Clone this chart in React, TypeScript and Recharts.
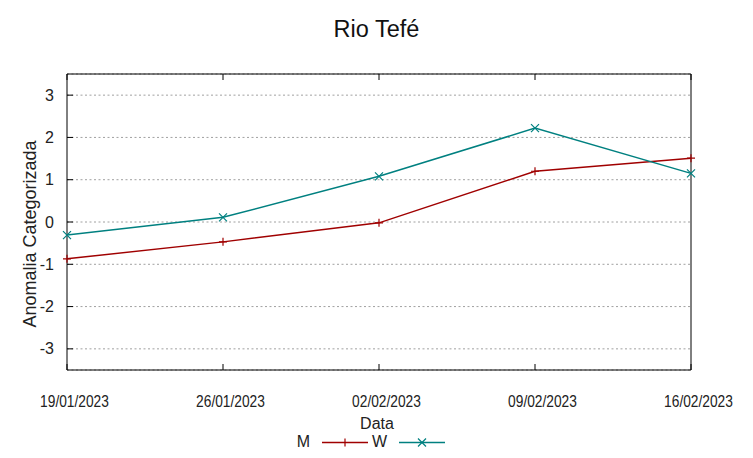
import React from "react";
import { LineChart, Line, XAxis, YAxis, CartesianGrid } from "recharts";

const dates = ["19/01/2023", "26/01/2023", "02/02/2023", "09/02/2023", "16/02/2023"];
const mValues = [-0.87, -0.47, -0.02, 1.2, 1.51];
const wValues = [-0.31, 0.11, 1.08, 2.22, 1.15];
const yTicks = [-3, -2, -1, 0, 1, 2, 3];

const series = [
  { key: "M", color: "#a00000", marker: "plus" },
  { key: "W", color: "#008080", marker: "cross" },
];

const data = dates.map((d, i) => ({ date: d, M: mValues[i], W: wValues[i] }));

const W = 753;
const H = 458;
const FONT = "'Liberation Sans', Arial, sans-serif";

function markerPath(kind: string, cx: number, cy: number, r: number) {
  if (kind === "plus") return `M${cx - r},${cy}H${cx + r}M${cx},${cy - r}V${cy + r}`;
  return `M${cx - r},${cy - r}L${cx + r},${cy + r}M${cx - r},${cy + r}L${cx + r},${cy - r}`;
}

const makeDot = (kind: string, color: string) => (props: any) => {
  const { cx, cy, index } = props;
  if (cx == null || cy == null) return <g key={index} />;
  return <path key={index} d={markerPath(kind, cx, cy, 4)} stroke={color} strokeWidth={1.2} fill="none" />;
};

const BottomTick = (props: any) => {
  const { x, y, payload } = props;
  return (
    <g>
      <line x1={x} x2={x} y1={y} y2={y - 6} stroke="#000" />
      <text
        transform={`translate(${x + 7.5},${y + 36.5}) scale(0.86,1)`}
        textAnchor="middle"
        fontFamily={FONT}
        fontSize={16}
        fill="#222"
      >
        {payload.value}
      </text>
    </g>
  );
};

const TopTick = (props: any) => {
  const { x, y } = props;
  return <line x1={x} x2={x} y1={y} y2={y + 6} stroke="#000" />;
};

const LeftTick = (props: any) => {
  const { x, y, payload } = props;
  return (
    <g>
      <line x1={x} x2={x + 6} y1={y} y2={y} stroke="#000" />
      <text x={x - 13} y={y + 5.5} textAnchor="end" fontFamily={FONT} fontSize={16} fill="#222">
        {payload.value}
      </text>
    </g>
  );
};

const RightTick = (props: any) => {
  const { x, y } = props;
  return <line x1={x} x2={x - 6} y1={y} y2={y} stroke="#000" />;
};

export default function App() {
  return (
    <div style={{ position: "absolute", left: 0, top: 0, width: W, height: H, background: "#fff" }}>
      <LineChart width={W} height={H} data={data} margin={{ top: 73, right: 61, bottom: 58, left: 7 }}>
        <CartesianGrid vertical={false} horizontalPoints={undefined} stroke="#a0a0a0" strokeDasharray="2 2.5" />
        <XAxis
          dataKey="date"
          height={30}
          tickSize={0}
          tickMargin={0}
          tickLine={false}
          tick={<BottomTick />}
          axisLine={{ stroke: "#000" }}
          interval={0}
        />
        <XAxis
          xAxisId="top"
          dataKey="date"
          orientation="top"
          height={1}
          tickSize={0}
          tickMargin={0}
          tickLine={false}
          tick={<TopTick />}
          axisLine={{ stroke: "#000" }}
          interval={0}
        />
        <YAxis
          width={60}
          type="number"
          domain={[-3.5, 3.5]}
          ticks={yTicks}
          tickSize={0}
          tickMargin={0}
          tickLine={false}
          tick={<LeftTick />}
          axisLine={{ stroke: "#000" }}
          interval={0}
        />
        <YAxis
          yAxisId="right"
          orientation="right"
          width={1}
          type="number"
          domain={[-3.5, 3.5]}
          ticks={yTicks}
          tickSize={0}
          tickMargin={0}
          tickLine={false}
          tick={<RightTick />}
          axisLine={{ stroke: "#000" }}
          interval={0}
        />
        {series.map((s) => (
          <Line
            key={s.key}
            type="linear"
            dataKey={s.key}
            stroke={s.color}
            strokeWidth={1.5}
            dot={makeDot(s.marker, s.color)}
            activeDot={false}
            isAnimationActive={false}
          />
        ))}
      </LineChart>
      <svg width={W} height={H} style={{ position: "absolute", left: 0, top: 0, pointerEvents: "none" }}>
        <text x={376.5} y={37} textAnchor="middle" fontFamily={FONT} fontSize={23.5} fill="#111">
          Rio Tefé
        </text>
        <text
          transform="translate(36,234) rotate(-90)"
          textAnchor="middle"
          fontFamily={FONT}
          fontSize={18}
          fill="#222"
        >
          Anomalia Categorizada
        </text>
        <text x={377} y={428.5} textAnchor="middle" fontFamily={FONT} fontSize={16} fill="#222">
          Data
        </text>
        {series.map((s, i) => {
          const textEnd = 310 + i * 77;
          const x1 = textEnd + 12;
          const x2 = x1 + 46;
          const ly = 442.5;
          const mx = (x1 + x2) / 2;
          return (
            <g key={s.key}>
              <text x={textEnd} y={447} textAnchor="end" fontFamily={FONT} fontSize={16} fill="#222">
                {s.key}
              </text>
              <line x1={x1} x2={x2} y1={ly} y2={ly} stroke={s.color} strokeWidth={1.5} />
              <path d={markerPath(s.marker, mx, ly, 4)} stroke={s.color} strokeWidth={1.2} fill="none" />
            </g>
          );
        })}
      </svg>
    </div>
  );
}
